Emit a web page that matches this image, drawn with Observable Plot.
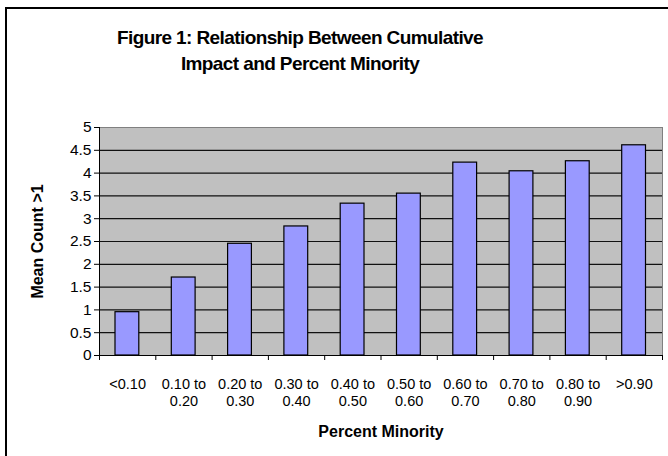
<!DOCTYPE html>
<html><head><meta charset="utf-8">
<script src="https://cdn.jsdelivr.net/npm/d3@7"></script>
<script src="https://cdn.jsdelivr.net/npm/@observablehq/plot@0.6"></script>
<style>
html,body{margin:0;padding:0;background:#fff;overflow:hidden;}
#wrap{position:relative;width:668px;height:456px;font-family:Arial,"Liberation Sans",sans-serif;overflow:hidden;}
#frame{position:absolute;left:5px;top:7px;width:720px;height:520px;border:2px solid #000;box-sizing:border-box;}
#title{position:absolute;left:0;width:600px;top:25px;text-align:center;font-weight:bold;font-size:19px;letter-spacing:-0.6px;line-height:26px;color:#000;}
#chart{position:absolute;left:0;top:0;}
</style></head><body>
<div id="wrap"><div id="frame"></div><div id="chart"></div><div id="title">Figure 1: Relationship Between Cumulative<br>Impact and Percent Minority</div></div>
<script>
const categories = ["<0.10", "0.10 to\n0.20", "0.20 to\n0.30", "0.30 to\n0.40", "0.40 to\n0.50",
                    "0.50 to\n0.60", "0.60 to\n0.70", "0.70 to\n0.80", "0.80 to\n0.90", ">0.90"];
const values = [0.95, 1.71, 2.45, 2.83, 3.33, 3.55, 4.23, 4.04, 4.26, 4.61];
const yTicks = [0, 0.5, 1, 1.5, 2, 2.5, 3, 3.5, 4, 4.5, 5];
const yTickLabels = ["0", "0.5", "1", "1.5", "2", "2.5", "3", "3.5", "4", "4.5", "5"];
const xLabel = "Percent Minority";
const yLabel = "Mean Count >1";

const table = categories.map((c, i) => ({i, c, v: values[i]}));
const boundaries = d3.range(categories.length + 1);
const centers = d3.range(categories.length).map(i => i + 0.5);

const plot = Plot.plot({
  width: 668, height: 456,
  marginLeft: 99, marginRight: 6, marginTop: 127, marginBottom: 101,
  style: {fontFamily: "Arial, 'Liberation Sans', sans-serif", fontSize: "14px", color: "#000", background: "transparent", overflow: "visible"},
  x: {type: "linear", domain: [0, categories.length]},
  y: {domain: [0, 5]},
  marks: [
    Plot.frame({fill: "#C0C0C0", stroke: "#808080"}),
    Plot.ruleY(yTicks.slice(1, -1), {stroke: "#111", strokeWidth: 1.2}),
    Plot.rectY(table, {x1: "i", x2: d => d.i + 1, y: "v", fill: "#9999FF", stroke: "#000", strokeWidth: 1.2, insetLeft: 16, insetRight: 16.5}),
    Plot.ruleX([0], {stroke: "#000"}),
    Plot.ruleY([0], {stroke: "#000"}),
    Plot.axisY({ticks: yTicks, tickFormat: d => yTickLabels[yTicks.indexOf(d)], tickSize: 5, tickPadding: 3, label: null, fontSize: 15.5}),
    Plot.axisX({ticks: boundaries, tickFormat: () => "", tickSize: 5, label: null}),
    Plot.axisX({ticks: centers, tickFormat: d => categories[Math.floor(d)], tickSize: 0, tickPadding: 21, lineHeight: 1.2, label: null, fontSize: 14.5}),
    Plot.text([xLabel], {text: d => d, frameAnchor: "bottom", dy: 76, lineAnchor: "middle", fontWeight: "bold", fontSize: 16}),
    Plot.text([yLabel], {text: d => d, frameAnchor: "left", dx: -62, textAnchor: "middle", rotate: -90, fontWeight: "bold", fontSize: 16})
  ]
});
document.getElementById("chart").appendChild(plot);
</script>
</body></html>
